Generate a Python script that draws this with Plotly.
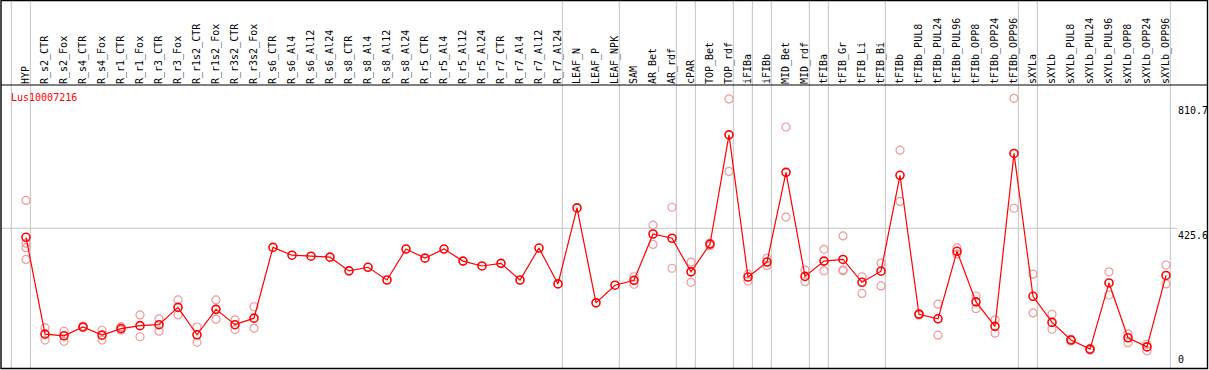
import plotly.graph_objects as go

categories = [
    "HYP", "R_s2_CTR", "R_s2_Fox", "R_s4_CTR", "R_s4_Fox", "R_r1_CTR", "R_r1_Fox",
    "R_r3_CTR", "R_r3_Fox", "R_r1s2_CTR", "R_r1s2_Fox", "R_r3s2_CTR", "R_r3s2_Fox",
    "R_s6_CTR", "R_s6_Al4", "R_s6_Al12", "R_s6_Al24", "R_s8_CTR", "R_s8_Al4",
    "R_s8_Al12", "R_s8_Al24", "R_r5_CTR", "R_r5_Al4", "R_r5_Al12", "R_r5_Al24",
    "R_r7_CTR", "R_r7_Al4", "R_r7_Al12", "R_r7_Al24", "LEAF_N", "LEAF_P", "LEAF_NPK",
    "SAM", "AR_Bet", "AR_rdf", "cPAR", "TOP_Bet", "TOP_rdf", "iFIBa", "iFIBb",
    "MID_Bet", "MID_rdf", "tFIBa", "tFIB_Gr", "tFIB_Li", "tFIB_Bi", "tFIBb",
    "tFIBb_PUL8", "tFIBb_PUL24", "tFIBb_PUL96", "tFIBb_OPP8", "tFIBb_OPP24", "tFIBb_OPP96",
    "sXYLa", "sXYLb", "sXYLb_PUL8", "sXYLb_PUL24", "sXYLb_PUL96", "sXYLb_OPP8",
    "sXYLb_OPP24", "sXYLb_OPP96",
]

means = [
    398, 101, 96, 123, 98, 118, 127, 130, 183, 99, 177, 130, 150,
    367, 343, 340, 337, 295, 306, 267, 362, 334, 362, 325, 310, 318, 267, 365, 255,
    488, 197, 251,
    266, 408, 395, 292, 377, 712, 276, 322, 597, 278,
    325, 330, 260, 294, 588,
    162, 148, 355, 200, 125, 655,
    217, 137, 83, 55, 258, 90, 62, 281,
]

replicates = [
    [511, 380, 366, 330], [121, 83], [110, 79], [126, 121], [113, 83], [124, 113],
    [160, 93], [148, 110], [206, 160], [123, 76], [206, 147], [145, 115], [185, 119],
    [], [], [], [], [], [], [], [], [], [], [], [], [], [], [], [],
    [], [], [],
    [277, 254], [435, 376], [490, 303], [322, 260], [380, 372], [822, 600],
    [285, 264], [334, 311], [736, 460], [298, 262],
    [361, 295], [402, 298, 295], [277, 226], [319, 249], [665, 508],
    [164, 160], [193, 98], [366, 347], [218, 179], [145, 104], [824, 487],
    [285, 166], [162, 116], [86, 80], [57, 52], [292, 221], [102, 75], [70, 50],
    [313, 255],
]

# group separators: drawn just after these category indices
separators_after = [-1, 0, 28, 31, 34, 35, 37, 38, 39, 41, 42, 45, 52, 53, 60]

gene_id = "Lus10007216"
scale_labels = [810.7, 425.6, 0]
grid_values = [425.6]

# ---------------- layout geometry ----------------
W, H = 1209, 370
T, B = 85, 1
FONT = "DejaVu Sans Mono"
RED = "#ff0000"
PINK = "#ee9a9a"
GREY = "#c4c4c4"

x_idx = list(range(len(categories)))
x_range = [-26 / 19, (W - 26) / 19]
y_range = [(367.1 - (H - B)) / 0.3262, (367.1 - T) / 0.3262]


def py(p):  # pixel row -> paper y
    return (H - B - p) / (H - B - T)


def px(p):  # pixel column -> paper x
    return p / W


rep_x, rep_y = [], []
for i, reps in enumerate(replicates):
    for v in reps:
        rep_x.append(i)
        rep_y.append(v)

fig = go.Figure()
fig.add_trace(go.Scatter(
    x=rep_x, y=rep_y, mode="markers",
    marker=dict(symbol="circle-open", size=8, color=PINK, line=dict(width=1.2, color=PINK)),
    hoverinfo="skip", showlegend=False,
))
fig.add_trace(go.Scatter(
    x=x_idx, y=means, mode="lines+markers",
    line=dict(color=RED, width=1.2),
    marker=dict(symbol="circle-open", size=8, color=RED, line=dict(width=1.6, color=RED)),
    showlegend=False,
))

shapes = []
# vertical separators (full height including header)
for s in separators_after:
    shapes.append(dict(type="line", xref="x", yref="paper", x0=s + 0.23, x1=s + 0.23,
                       y0=py(369), y1=py(0), line=dict(color=GREY, width=1), layer="below"))
# horizontal grid
for g in grid_values:
    shapes.append(dict(type="line", xref="paper", yref="y", x0=px(1), x1=px(1177),
                       y0=g, y1=g, line=dict(color=GREY, width=1), layer="below"))
# header line
shapes.append(dict(type="line", xref="paper", yref="paper", x0=px(1), x1=px(1208),
                   y0=py(85), y1=py(85), line=dict(color="black", width=1.2)))
# outer frame
shapes.append(dict(type="rect", xref="paper", yref="paper", x0=px(1), x1=px(1207.5),
                   y0=py(368.5), y1=py(0.5), line=dict(color="black", width=1.4)))

annotations = [dict(text=gene_id, xref="paper", yref="paper", x=px(9), y=py(97),
                    xanchor="left", yanchor="middle", showarrow=False,
                    font=dict(family=FONT, size=10, color=RED))]
for v in scale_labels:
    annotations.append(dict(text=f"{v:g}", xref="paper", yref="y", x=px(1176), y=v,
                            xanchor="left", yanchor="bottom" if v == 0 else "top",
                            showarrow=False, font=dict(family=FONT, size=10, color="black")))

fig.update_layout(
    width=W, height=H,
    margin=dict(l=0, r=0, t=T, b=B, pad=0),
    paper_bgcolor="white", plot_bgcolor="white",
    xaxis=dict(range=x_range, side="top", tickmode="array", tickvals=x_idx,
               ticktext=categories, tickangle=-90, showgrid=False, zeroline=False,
               showline=False, ticks="", automargin=False,
               tickfont=dict(family=FONT, size=10, color="black")),
    yaxis=dict(range=y_range, showgrid=False, zeroline=False, showticklabels=False,
               showline=False, ticks="", automargin=False),
    shapes=shapes, annotations=annotations,
    showlegend=False,
)

fig.write_html(
    "out.html",
    config={"displayModeBar": False},
    post_script="document.body.style.margin='0';document.body.style.padding='0';"
                "document.body.style.overflow='hidden';",
)
